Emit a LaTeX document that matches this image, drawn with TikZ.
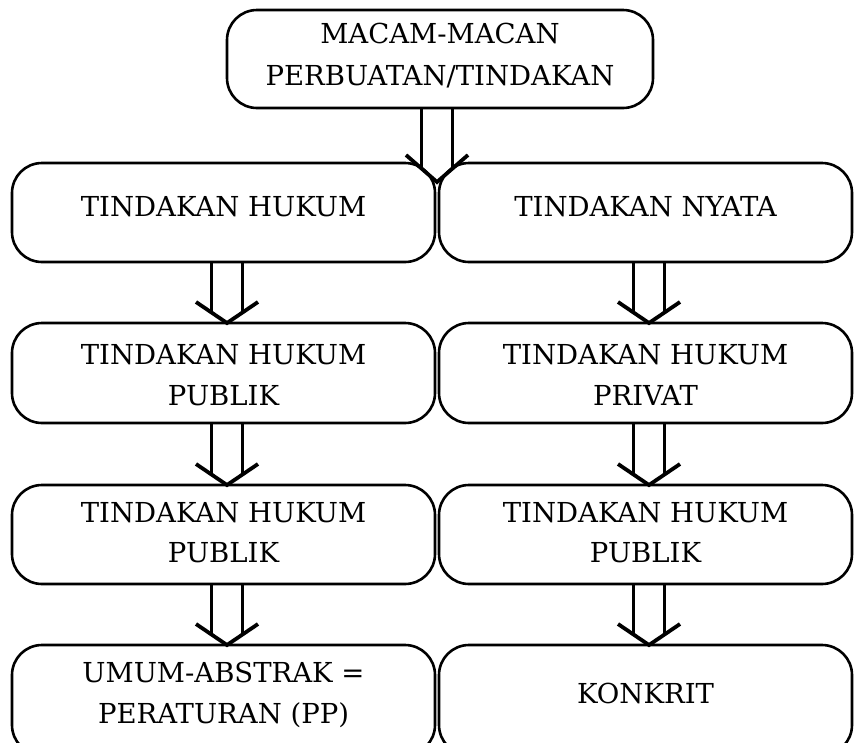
\documentclass[tikz,border=0pt]{standalone}
\usepackage{fontspec}
\setmainfont{DejaVu Serif}
\newcommand\darrow[3]{%
  \coordinate (#1s) at (#2 |- #1.south);
  \draw[shaft] ([xshift=-15.5pt]#1s) -- ([xshift=-15.5pt,yshift=#3*0.5pt]#2);
  \draw[shaft] ([xshift=15.5pt]#1s) -- ([xshift=15.5pt,yshift=#3*0.5pt]#2);
  \draw[shaft, line join=miter] ([xshift=-31pt,yshift=#3*1pt]#2) -- (#2) -- ([xshift=31pt,yshift=#3*1pt]#2);
}
\begin{document}
\begin{tikzpicture}[x=1pt,y=-1pt,
  box/.style={draw, line width=2.6pt, rounded corners=30pt, inner sep=0pt},
  lbl/.style={anchor=base, inner sep=0pt, font=\fontsize{27.5}{31}\selectfont},
  shaft/.style={line width=3.8pt},
]
\clip (0,0) rectangle (854,742);
\fill[white] (0,0) rectangle (854,742);
% boxes
\node[box, minimum width=426pt, minimum height=98pt] (top) at (440,59) {};
\node[box, minimum width=423pt, minimum height=99pt] (l1) at (223.5,212.5) {};
\node[box, minimum width=413pt, minimum height=99pt] (r1) at (645.5,212.5) {};
\node[box, minimum width=423pt, minimum height=100pt] (l2) at (223.5,373) {};
\node[box, minimum width=413pt, minimum height=100pt] (r2) at (645.5,373) {};
\node[box, minimum width=423pt, minimum height=99pt] (l3) at (223.5,534.5) {};
\node[box, minimum width=413pt, minimum height=99pt] (r3) at (645.5,534.5) {};
\node[box, minimum width=423pt, minimum height=110pt] (l4) at (223.5,700) {};
\node[box, minimum width=413pt, minimum height=110pt] (r4) at (645.5,700) {};
% texts
\node[lbl] (topa) at (440,43) {MACAM-MACAN};
\node[lbl] (topb) at (440,85) {PERBUATAN/TINDAKAN};
\node[lbl] (l1t) at (223.5,216) {TINDAKAN HUKUM};
\node[lbl] (r1t) at (645.5,216) {TINDAKAN NYATA};
\node[lbl] (l2a) at (223.5,364) {TINDAKAN HUKUM};
\node[lbl] (l2b) at (223.5,405) {PUBLIK};
\node[lbl] (r2a) at (645.5,364) {TINDAKAN HUKUM};
\node[lbl] (r2b) at (645.5,405) {PRIVAT};
\node[lbl] (l3a) at (223.5,522) {TINDAKAN HUKUM};
\node[lbl] (l3b) at (223.5,562) {PUBLIK};
\node[lbl] (r3a) at (645.5,522) {TINDAKAN HUKUM};
\node[lbl] (r3b) at (645.5,562) {PUBLIK};
\node[lbl] (l4a) at (223.5,682) {UMUM-ABSTRAK =};
\node[lbl] (l4b) at (223.5,723) {PERATURAN (PP)};
\node[lbl] (r4t) at (645.5,703) {KONKRIT};
% arrow tips
\coordinate (t0) at (437,182);
\coordinate (tl1) at (227,323);
\coordinate (tr1) at (649,323);
\coordinate (tl2) at (227,485);
\coordinate (tr2) at (649,485);
\coordinate (tl3) at (227,645);
\coordinate (tr3) at (649,645);
\darrow{top}{t0}{27}
\darrow{l1}{tl1}{21}
\darrow{r1}{tr1}{21}
\darrow{l2}{tl2}{21}
\darrow{r2}{tr2}{21}
\darrow{l3}{tl3}{21}
\darrow{r3}{tr3}{21}
\end{tikzpicture}
\end{document}
